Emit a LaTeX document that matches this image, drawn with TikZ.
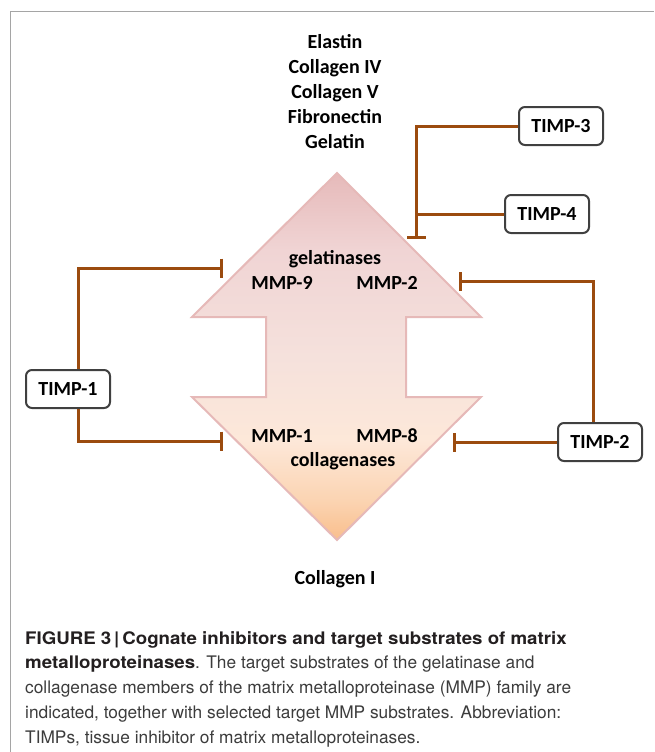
\documentclass[tikz,border=0pt]{standalone}
\usepackage{fontspec}
\setmainfont{Carlito}
\newfontfamily\capfont{TeX Gyre Heros}
\newfontfamily\capbf{TeX Gyre Heros}[UprightFont=*-Bold, FakeStretch=1.08]
\usetikzlibrary{arrows.meta}
\definecolor{inhib}{RGB}{155,75,15}
\definecolor{boxline}{RGB}{64,64,64}
\definecolor{arrline}{RGB}{230,185,184}
\definecolor{framec}{RGB}{165,165,165}
\definecolor{capbold}{RGB}{35,31,32}
\definecolor{captext}{RGB}{60,60,60}
\definecolor{sA}{RGB}{230,186,186}
\definecolor{sB}{RGB}{240,212,212}
\definecolor{sC}{RGB}{245,225,220}
\definecolor{sD}{RGB}{253,232,217}
\definecolor{sE}{RGB}{251,212,178}
\definecolor{sF}{RGB}{249,190,140}
\pgfdeclareverticalshading{dblarrow}{100bp}{color(0bp)=(sF); color(25bp)=(sF); color(30.4bp)=(sE); color(38.6bp)=(sD); color(50bp)=(sC); color(64.5bp)=(sB); color(75bp)=(sA); color(100bp)=(sA)}
\tikzset{
  lbl/.style={font=\bfseries\fontsize{20}{25}\selectfont, inner sep=0pt, anchor=base},
  timp/.style={draw=boxline, line width=2pt, rounded corners=6pt, fill=white,
    minimum width=84pt, minimum height=38pt, inner sep=0pt,
    font=\bfseries\fontsize{20}{25}\selectfont},
  conn/.style={draw=inhib, line width=3pt},
  inh/.style={conn, -{Bar[width=19pt]}, shorten >=-1.5pt},
}
\begin{document}
\begin{tikzpicture}[x=1pt,y=-1pt]
\useasboundingbox (0,0) rectangle (654,752);
\fill[white] (0,0) rectangle (654,752);
% frame
\draw[framec, line width=1pt] (10,752) -- (10,12) -- (654,12);
% double arrow
\path[shading=dblarrow, draw=arrline, line width=2pt, line join=miter]
  (337,173) -- (481,317) -- (406,317) -- (406,397) -- (481,397) -- (337,540)
  -- (192,397) -- (266,397) -- (266,317) -- (192,317) -- cycle;
% substrate text
\node[font=\bfseries\fontsize{20}{25}\selectfont, align=center, inner sep=0pt] (subs) at (335,92)
  {Elastin\\Collagen IV\\Collagen V\\Fibronectin\\Gelatin};
\node[lbl] (gel) at (335,264) {gelatinases};
\node[lbl] (m9) at (282,289) {MMP-9};
\node[lbl] (m2) at (387,289) {MMP-2};
\node[lbl] (m1) at (282,442) {MMP-1};
\node[lbl] (m8) at (387,442) {MMP-8};
\node[lbl] (col) at (343,466) {collagenases};
\node[lbl] (c1) at (335,584) {Collagen I};
% TIMP boxes
\node[timp] (t3) at (561,126) {TIMP-3};
\node[timp] (t4) at (547,214) {TIMP-4};
\node[timp] (t1) at (68,389) {TIMP-1};
\node[timp] (t2) at (600,442) {TIMP-2};
% bar coordinates
\coordinate (b34) at (416,237);
\coordinate (j4) at (416,214);
\coordinate (b9) at (221,268);
\coordinate (b1) at (221,441);
\coordinate (b2) at (460,281);
\coordinate (b8) at (454,442);
% connectors
\draw[inh] (t3.west) -| (b34);
\draw[conn] (t4.west) -- (j4);
\draw[inh] ([xshift=10pt]t1.north) |- (b9);
\draw[inh] ([xshift=10pt]t1.south) |- (b1);
\draw[inh] ([xshift=-7pt]t2.north) |- (b2);
\draw[inh] (t2.west) -- (b8);
% caption
\node[anchor=north west, inner sep=0pt, align=left, text=captext,
  font=\capfont\fontsize{17.3}{24.75}\selectfont] (cap) at (25,631)
  {\textcolor{capbold}{\capbf FIGURE 3\,|\,Cognate inhibitors and target substrates of matrix}\\
   \textcolor{capbold}{\capbf metalloproteinases}. The target substrates of the gelatinase and\\
   collagenase members of the matrix metalloproteinase (MMP) family are\\
   indicated, together with selected target MMP substrates. Abbreviation:\\
   TIMPs, tissue inhibitor of matrix metalloproteinases.};
\end{tikzpicture}
\end{document}
